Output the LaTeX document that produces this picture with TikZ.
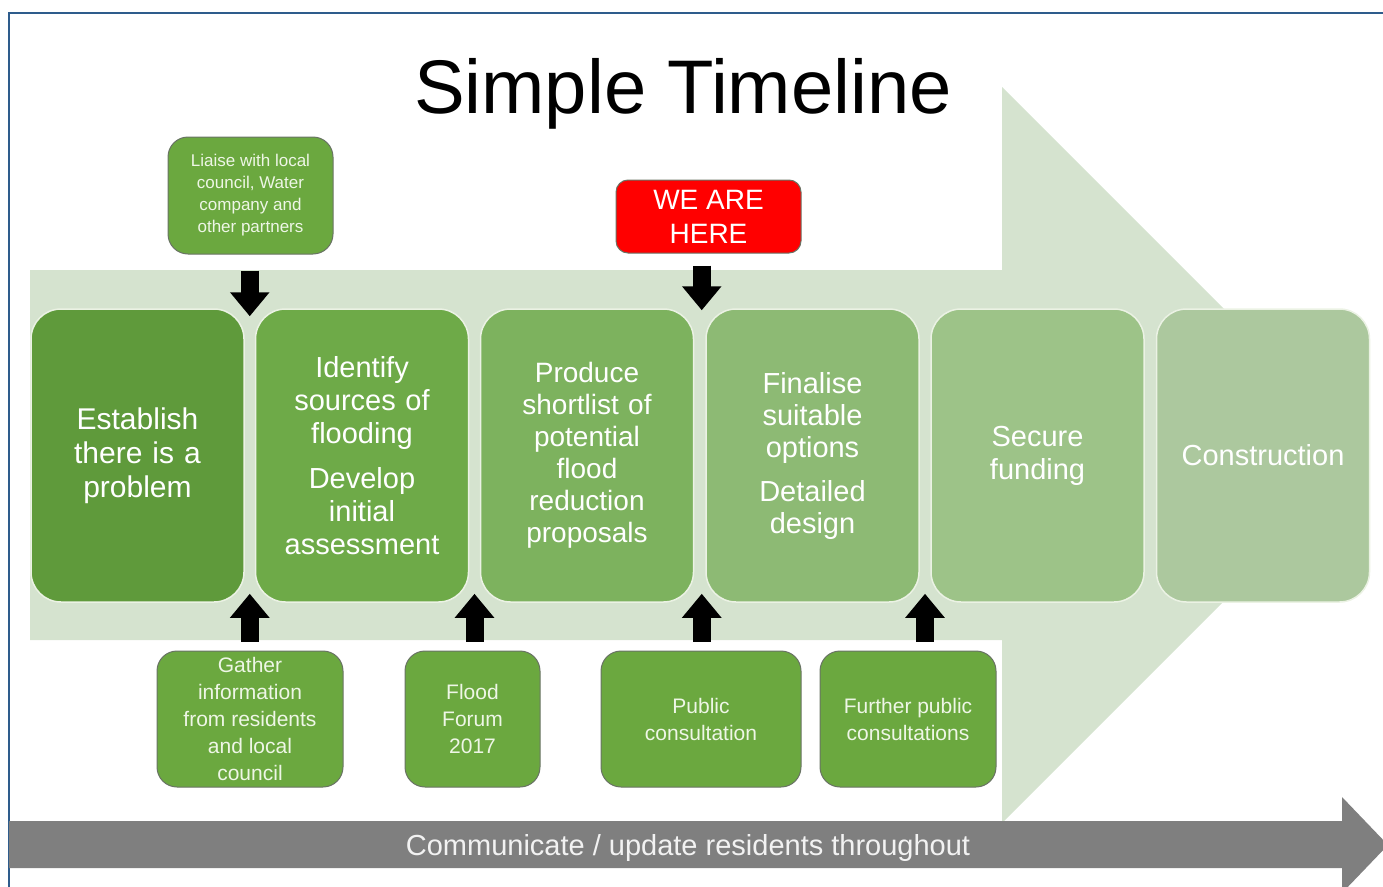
\documentclass[tikz,border=0pt]{standalone}
\usepackage{fontspec}
\setmainfont{Liberation Sans}
\usetikzlibrary{arrows.meta,calc}
\definecolor{frame_blue}{RGB}{46,92,140}
\definecolor{band_green}{RGB}{213,227,207}
\definecolor{band_gray}{RGB}{127,127,127}
\definecolor{stage_a}{RGB}{95,154,59}
\definecolor{stage_b}{RGB}{110,170,72}
\definecolor{stage_c}{RGB}{125,178,94}
\definecolor{stage_d}{RGB}{141,186,116}
\definecolor{stage_e}{RGB}{157,195,136}
\definecolor{stage_f}{RGB}{172,200,158}
\definecolor{stage_edge}{RGB}{235,242,228}
\definecolor{note_green}{RGB}{107,168,63}
\definecolor{note_edge}{RGB}{105,115,100}
\definecolor{note_text}{RGB}{238,246,230}
\definecolor{here_red}{RGB}{255,0,0}

\begin{document}
\begin{tikzpicture}[x=1pt,y=-1pt,>={Triangle[width=38pt,length=24pt]}]
    \tikzstyle{stage}=[draw=stage_edge, line width=1.5pt, rounded corners=30pt, minimum width=213pt, minimum height=293pt, text width=200pt, align=center, text=white, font=\fontsize{29pt}{33pt}\selectfont]
    \tikzstyle{note}=[draw=note_edge, fill=note_green, line width=1pt, rounded corners=20pt, align=center, text=note_text, minimum height=136pt, font=\fontsize{21pt}{27pt}\selectfont]
    \tikzstyle{push}=[->, line width=18pt, black]

    \useasboundingbox (0,0) rectangle (1383,886);
    \clip (0,0) rectangle (1383,886);

    % frame and background arrows
    \draw[frame_blue, line width=1.5pt] (9,900) -- (9,13) -- (1400,13);
    \fill[band_green] (30,270) -- (1002,270) -- (1002,87) -- (1370,455) -- (1002,823)
        -- (1002,640) -- (30,640) -- cycle;
    \fill[band_gray] (9,821) -- (1342,821) -- (1342,797) -- (1388,845) -- (1342,893)
        -- (1342,868) -- (9,868) -- cycle;

    \node[anchor=base, font=\fontsize{76pt}{80pt}\selectfont] (title) at (683,113) {Simple Timeline};
    \node[text=white!95!black, font=\fontsize{29pt}{33pt}\selectfont] (comm) at (688,848)
        {Communicate / update residents throughout};

    % stages
    \node[stage, fill=stage_a, font=\fontsize{30pt}{34pt}\selectfont] (s1) at (137.5,455.5) {Establish\\there is a\\problem};
    \node[stage, fill=stage_b] (s2) at (362,455.5) {Identify\\sources of\\flooding\\[12pt]Develop\\initial\\assessment};
    \node[stage, fill=stage_c, font=\fontsize{28pt}{32pt}\selectfont] (s3) at (587,455.5) {Produce\\shortlist of\\potential\\flood\\reduction\\proposals};
    \node[stage, fill=stage_d, font=\fontsize{29pt}{32pt}\selectfont] (s4) at (812.5,455.5) {Finalise\\suitable\\options\\[12pt]Detailed\\design};
    \node[stage, fill=stage_e] (s5) at (1037.5,455.5) {Secure\\funding};
    \node[stage, fill=stage_f] (s6) at (1263,455.5) {Construction};

    % inputs
    \node[note, minimum width=165pt, minimum height=117pt, font=\fontsize{17pt}{22pt}\selectfont] (liaise) at (250.5,195.5)
        {Liaise with local\\council, Water\\company and\\other partners};
    \node[note, fill=here_red, text=white, rounded corners=12pt, minimum width=185pt, minimum height=73pt,
        font=\fontsize{28pt}{34pt}\selectfont] (here) at (708.5,216.5) {WE ARE\\HERE};
    \node[note, minimum width=186pt] (gather) at (250,719) {Gather\\information\\from residents\\and local\\council};
    \node[note, minimum width=135pt] (forum) at (472.5,719) {Flood\\Forum\\2017};
    \node[note, minimum width=200pt] (public) at (701,719) {Public\\consultation};
    \node[note, minimum width=176pt] (further) at (908,719) {Further public\\consultations};

    % gaps between stages
    \coordinate (g12t) at ($(s1.north east)!.5!(s2.north west)$);
    \coordinate (g34t) at ($(s3.north east)!.5!(s4.north west)+(2,0)$);
    \coordinate (g12b) at ($(s1.south east)!.5!(s2.south west)$);
    \coordinate (g23b) at ($(s2.south east)!.5!(s3.south west)$);
    \coordinate (g34b) at ($(s3.south east)!.5!(s4.south west)+(2,0)$);
    \coordinate (g45b) at ($(s4.south east)!.5!(s5.south west)$);

    \draw[push] ($(liaise.south -| g12t)+(0,16)$) -- ($(g12t)+(0,8)$);
    \draw[push] ($(here.south -| g34t)+(0,12)$) -- ($(g34t)+(0,2)$);
    \draw[push] ($(gather.north -| g12b)+(0,-9)$) -- ($(g12b)+(0,-9)$);
    \draw[push] ($(forum.north -| g23b)+(0,-9)$) -- ($(g23b)+(0,-9)$);
    \draw[push] ($(public.north -| g34b)+(0,-9)$) -- ($(g34b)+(0,-9)$);
    \draw[push] ($(further.north -| g45b)+(0,-9)$) -- ($(g45b)+(0,-9)$);
\end{tikzpicture}
\end{document}
